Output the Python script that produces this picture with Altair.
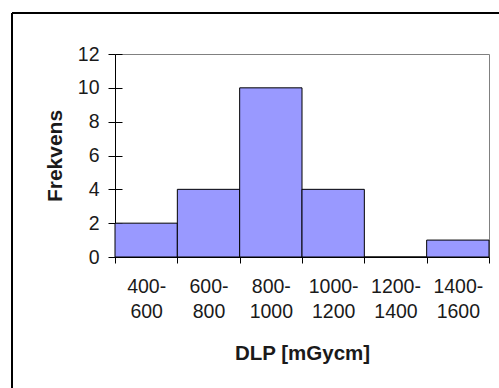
import altair as alt
import pandas as pd

bins = ["400-\n600", "600-\n800", "800-\n1000", "1000-\n1200", "1200-\n1400", "1400-\n1600"]
counts = [2, 4, 10, 4, 0, 1]
y_ticks = [0, 2, 4, 6, 8, 10, 12]

df = pd.DataFrame({"bin": bins, "count": counts})

FONT = "Liberation Sans"

x_enc = alt.X(
    "bin:N", sort=bins,
    scale=alt.Scale(paddingInner=0, paddingOuter=0),
    axis=alt.Axis(
        title="DLP [mGycm]", labelAngle=0, labelExpr="split(datum.label, '\\n')",
        labelLineHeight=25, labelPadding=14, labelFontSize=19.5, labelFont=FONT,
        labelColor="#1a1a1a", tickBand="extent", tickSize=6, tickColor="#000",
        domainColor="#000", titleFont=FONT, titleFontSize=20.5, titleFontWeight="bold",
        titleColor="#1a1a1a", titleY=96, titleBaseline="middle", grid=False,
    ),
)

bars = alt.Chart(df).mark_bar(color="#9999FF", stroke="#000", strokeWidth=1).encode(
    x=x_enc,
    y=alt.Y(
        "count:Q", scale=alt.Scale(domain=[0, 12]),
        axis=alt.Axis(
            title="Frekvens", values=y_ticks, tickSize=7, tickColor="#000", domainColor="#000",
            labelPadding=9, labelFontSize=19.5, labelFont=FONT, labelColor="#1a1a1a",
            titleFont=FONT, titleFontSize=21, titleFontWeight="bold", titleColor="#1a1a1a",
            titleX=-60, titleY=101.5, titleAngle=270, titleAlign="center",
            titleBaseline="middle", grid=False,
        ),
    ),
)

inner_ticks = alt.Chart(df).mark_bar(opacity=0).encode(
    y=alt.Y(
        "count:Q", scale=alt.Scale(domain=[0, 12]),
        axis=alt.Axis(
            orient="right", offset=-374, values=y_ticks, tickSize=7, tickColor="#000",
            domain=False, labels=False, title=None, grid=False,
        ),
    ),
)

frame_df = pd.DataFrame({"k": [0]})
frame_top = alt.Chart(frame_df).mark_rule(color="#000", strokeWidth=2).encode(
    x=alt.value(-103), x2=alt.value(400), y=alt.value(-41)
)
frame_left = alt.Chart(frame_df).mark_rule(color="#000", strokeWidth=2).encode(
    x=alt.value(-103), y=alt.value(-41), y2=alt.value(340)
)

chart = (
    alt.layer(bars, inner_ticks, frame_top, frame_left)
    .resolve_axis(y="independent")
    .properties(
        width=374, height=203,
        autosize=alt.AutoSizeParams(type="none"),
        padding={"left": 115, "top": 54, "right": 10, "bottom": 131},
        background="white",
    )
    .configure_view(stroke="#808080", strokeWidth=1)
)

chart.save("out.html", embed_options={"renderer": "svg", "actions": False})
